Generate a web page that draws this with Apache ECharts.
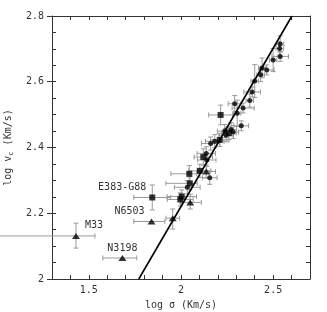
<!DOCTYPE html>
<html><head><meta charset="utf-8">
<script src="https://cdn.jsdelivr.net/npm/echarts@6/dist/echarts.min.js"></script>
<style>html,body{margin:0;padding:0;background:#fff}#c{width:327px;height:312px}</style>
</head><body><div id="c"></div>
<script>
// Tick labels
const xTickLabels = ['1.5', '2', '2.5'];
const yTickLabels = ['2', '2.2', '2.4', '2.6', '2.8'];

// Rows: [log sigma, log vc, dx-, dx+, dy-, dy+]
const triangles = [
  [1.430, 2.131, 0.43, 0.103, 0.037, 0.039],   // M33
  [1.682, 2.064, 0.106, 0.078, 0, 0],          // N3198
  [1.840, 2.175, 0.096, 0.072, 0, 0],          // N6503
  [1.955, 2.185, 0.037, 0.038, 0.033, 0.028],
  [2.050, 2.233, 0.05, 0.06, 0.02, 0.025],
  [2.137, 2.327, 0.045, 0.05, 0.02, 0.02]
];
const squares = [
  [1.844, 2.248, 0.10, 0.10, 0.038, 0.038],    // E383-G88
  [1.996, 2.242, 0.07, 0.07, 0.02, 0.02],
  [2.004, 2.251, 0.08, 0.08, 0.02, 0.02],
  [2.048, 2.291, 0.13, 0.04, 0.02, 0.02],
  [2.045, 2.320, 0.10, 0.04, 0.025, 0.025],
  [2.102, 2.329, 0.06, 0.06, 0.02, 0.02],
  [2.121, 2.371, 0.05, 0.05, 0.025, 0.025],
  [2.210, 2.423, 0.05, 0.05, 0.02, 0.02],
  [2.259, 2.444, 0.04, 0.04, 0.02, 0.02],
  [2.215, 2.499, 0.065, 0.065, 0.03, 0.03]
];
const circles = [
  [2.538, 2.715, 0.02, 0.02, 0.025, 0.025],
  [2.535, 2.701, 0.02, 0.02, 0.02, 0.02],
  [2.538, 2.677, 0.045, 0.045, 0.015, 0.015],
  [2.500, 2.666, 0.02, 0.02, 0.035, 0.035],
  [2.440, 2.642, 0.02, 0.02, 0.03, 0.03],
  [2.465, 2.636, 0.04, 0.04, 0.015, 0.015],
  [2.432, 2.621, 0.02, 0.02, 0.02, 0.02],
  [2.400, 2.602, 0.02, 0.02, 0.05, 0.05],
  [2.386, 2.569, 0.045, 0.045, 0.015, 0.015],
  [2.373, 2.543, 0.02, 0.02, 0.02, 0.02],
  [2.291, 2.533, 0.035, 0.035, 0.025, 0.025],
  [2.337, 2.520, 0.06, 0.06, 0.015, 0.015],
  [2.305, 2.504, 0.02, 0.02, 0.04, 0.04],
  [2.327, 2.466, 0.04, 0.04, 0.015, 0.015],
  [2.272, 2.455, 0.03, 0.03, 0.02, 0.02],
  [2.283, 2.447, 0.03, 0.03, 0.02, 0.02],
  [2.237, 2.450, 0.04, 0.04, 0.02, 0.02],
  [2.245, 2.437, 0.04, 0.04, 0.02, 0.02],
  [2.183, 2.419, 0.05, 0.05, 0.02, 0.02],
  [2.161, 2.412, 0.05, 0.05, 0.02, 0.02],
  [2.137, 2.382, 0.05, 0.05, 0.02, 0.02],
  [2.140, 2.362, 0.05, 0.05, 0.02, 0.02],
  [2.156, 2.308, 0.04, 0.04, 0.02, 0.02],
  [2.034, 2.279, 0.07, 0.07, 0.02, 0.02]
];
// Labels: [text, log sigma, log vc]
const labels = [
  ['M33', 1.430, 2.131],
  ['N3198', 1.682, 2.064],
  ['N6503', 1.840, 2.175],
  ['E383-G88', 1.844, 2.248]
];
// Fit line endpoints
const fitX = [1.771, 2.602];
const fitY = [2.0, 2.8];

const FONT = '"DejaVu Sans Mono", monospace';
const TXT = '#333';
const AX = '#333';
function findLabel(list, v) {
  const f = list.find(l => Math.abs(parseFloat(l) - v) < 1e-6);
  return f || '';
}
const allPts = triangles.concat(squares, circles);

const chart = echarts.init(document.getElementById('c'), null, {renderer: 'canvas'});
const labelOffsets = {'M33': [9, -11, 'left'], 'N3198': [0, -10, 'center'], 'N6503': [-7, -10, 'right'], 'E383-G88': [-6, -10, 'right']};

chart.setOption({
  animation: false,
  backgroundColor: '#fff',
  grid: {left: 52, top: 16, right: 17, bottom: 33, containLabel: false, outerBoundsMode: 'none'},
  xAxis: [
    {type: 'value', min: 1.3, max: 2.7, interval: 0.1, position: 'bottom',
     name: 'log σ (Km/s)', nameLocation: 'middle', nameGap: 21,
     nameTextStyle: {fontFamily: FONT, fontSize: 10, color: TXT},
     axisLine: {lineStyle: {color: AX, width: 1}},
     axisTick: {inside: true, length: 4, lineStyle: {color: AX}},
     axisLabel: {fontFamily: FONT, fontSize: 10, color: TXT, margin: 6,
       formatter: v => findLabel(xTickLabels, v)},
     splitLine: {show: false}},
    {type: 'value', min: 1.3, max: 2.7, interval: 0.1, position: 'top',
     axisLine: {lineStyle: {color: AX, width: 1}},
     axisTick: {inside: true, length: 4, lineStyle: {color: AX}},
     axisLabel: {show: false}, splitLine: {show: false}}
  ],
  yAxis: [
    {type: 'value', min: 2, max: 2.8, interval: 0.05, position: 'left',
     name: '{a|log v}{s|c}{a| (Km/s)}', nameLocation: 'middle', nameGap: 37,
     nameTextStyle: {fontFamily: FONT, fontSize: 10, color: TXT,
       rich: {a: {fontFamily: FONT, fontSize: 10, color: TXT},
              s: {fontFamily: FONT, fontSize: 7, color: TXT, verticalAlign: 'bottom', padding: [6, 0, 0, 0]}}},
     axisLine: {lineStyle: {color: AX, width: 1}},
     axisTick: {inside: true, length: 4, lineStyle: {color: AX}},
     axisLabel: {show: false}, splitLine: {show: false}},
    {type: 'value', min: 2, max: 2.8, interval: 0.2, position: 'left',
     axisLine: {show: false},
     axisTick: {inside: false, length: 5, lineStyle: {color: AX}},
     axisLabel: {fontFamily: FONT, fontSize: 10, color: TXT, margin: 8,
       formatter: v => findLabel(yTickLabels, v)},
     splitLine: {show: false}},
    {type: 'value', min: 2, max: 2.8, interval: 0.05, position: 'right',
     axisLine: {lineStyle: {color: AX, width: 1}},
     axisTick: {inside: true, length: 4, lineStyle: {color: AX}},
     axisLabel: {show: false}, splitLine: {show: false}}
  ],
  series: [
    {type: 'custom', clip: false, z: 2,
     data: allPts,
     renderItem: function (params, api) {
       const x = api.value(0), y = api.value(1);
       const dxl = api.value(2), dxh = api.value(3), dyl = api.value(4), dyh = api.value(5);
       const c = api.coord([x, y]);
       const children = [];
       const st = {stroke: '#9a9a9a', lineWidth: 1};
       const cap = 2.5;
       if (dxl > 0 || dxh > 0) {
         const a = api.coord([x - dxl, y]), b = api.coord([x + dxh, y]);
         children.push({type: 'line', shape: {x1: a[0], y1: c[1], x2: b[0], y2: c[1]}, style: st});
         children.push({type: 'line', shape: {x1: a[0], y1: c[1] - cap, x2: a[0], y2: c[1] + cap}, style: st});
         children.push({type: 'line', shape: {x1: b[0], y1: c[1] - cap, x2: b[0], y2: c[1] + cap}, style: st});
       }
       if (dyl > 0 || dyh > 0) {
         const a = api.coord([x, y - dyl]), b = api.coord([x, y + dyh]);
         children.push({type: 'line', shape: {x1: c[0], y1: a[1], x2: c[0], y2: b[1]}, style: st});
         children.push({type: 'line', shape: {x1: c[0] - cap, y1: a[1], x2: c[0] + cap, y2: a[1]}, style: st});
         children.push({type: 'line', shape: {x1: c[0] - cap, y1: b[1], x2: c[0] + cap, y2: b[1]}, style: st});
       }
       return {type: 'group', children: children};
     }},
    {type: 'line', data: fitX.map((v, i) => [v, fitY[i]]), symbol: 'none', z: 3,
     lineStyle: {color: '#000', width: 1.6}},
    {type: 'scatter', data: triangles.map(r => [r[0], r[1]]), symbol: 'triangle', symbolSize: [8, 6], z: 4,
     itemStyle: {color: '#000'}},
    {type: 'scatter', data: squares.map(r => [r[0], r[1]]), symbol: 'rect', symbolSize: 6, z: 4,
     itemStyle: {color: '#000'}},
    {type: 'scatter', data: circles.map(r => [r[0], r[1]]), symbol: 'circle', symbolSize: 5, z: 4,
     itemStyle: {color: '#000'}},
    {type: 'custom', clip: false, z: 5,
     data: labels.map(l => [l[1], l[2], l[0]]),
     renderItem: function (params, api) {
       const c = api.coord([api.value(0), api.value(1)]);
       const t = labels[params.dataIndex][0];
       const o = labelOffsets[t];
       return {type: 'text', x: c[0] + o[0], y: c[1] + o[1],
         style: {text: t, fill: TXT, font: '10px ' + FONT, textAlign: o[2], textVerticalAlign: 'middle'}};
     }}
  ]
});
</script></body></html>
